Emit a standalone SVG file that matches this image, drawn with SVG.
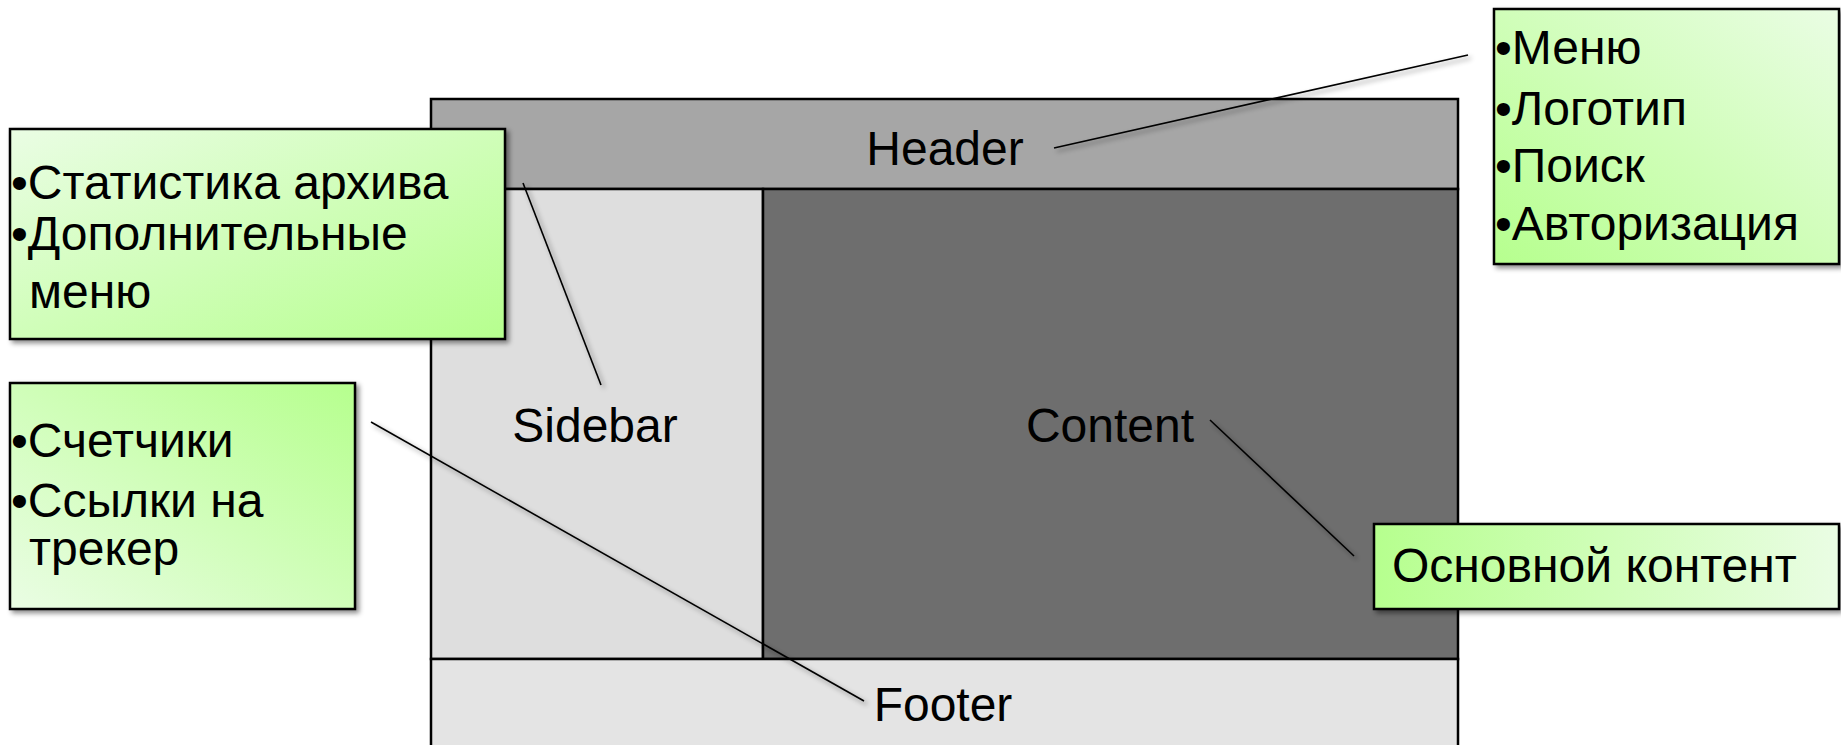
<svg xmlns="http://www.w3.org/2000/svg" width="1841" height="745" viewBox="0 0 1841 745">
<defs>
<style>
.lbl{font-family:"Liberation Sans",Arial,sans-serif;font-size:48px;fill:#000}
.t{font-family:"Liberation Sans",Arial,sans-serif;font-size:48px;fill:#000}
.box{stroke:#000;stroke-width:2.5}
.part{stroke:#000;stroke-width:2.5}
.conn line{stroke:#000;stroke-width:1.6;filter:url(#sh)}
</style>
<linearGradient id="g1" x1="0" y1="0" x2="1" y2="1"><stop offset="0" stop-color="#eafde4"/><stop offset="1" stop-color="#b6ff8e"/></linearGradient>
<linearGradient id="g2" x1="0" y1="1" x2="1" y2="0"><stop offset="0" stop-color="#b6ff8e"/><stop offset="1" stop-color="#eafde4"/></linearGradient>
<linearGradient id="g3" x1="0" y1="1" x2="1" y2="0"><stop offset="0" stop-color="#eafde4"/><stop offset="1" stop-color="#b6ff8e"/></linearGradient>
<linearGradient id="g4" x1="0" y1="0" x2="1" y2="0"><stop offset="0" stop-color="#b6ff8e"/><stop offset="1" stop-color="#eafde4"/></linearGradient>
<filter id="sh" x="-10%" y="-10%" width="130%" height="130%"><feDropShadow dx="3" dy="3" stdDeviation="2.5" flood-color="#000" flood-opacity="0.45"/></filter>
</defs>
<g id="layout">
<g id="header"><rect class="part" x="431" y="99" width="1027" height="90" fill="#a6a6a6"/><text class="lbl" x="945" y="165" text-anchor="middle">Header</text></g>
<g id="sidebar"><rect class="part" x="431" y="189" width="332" height="470" fill="#dedede"/><text class="lbl" x="595" y="442" text-anchor="middle">Sidebar</text></g>
<g id="content"><rect class="part" x="763" y="189" width="695" height="470" fill="#6e6e6e"/><text class="lbl" x="1110" y="442" text-anchor="middle">Content</text></g>
<g id="footer"><rect class="part" x="431" y="659" width="1027" height="100" fill="#e4e4e4"/><text class="lbl" x="943" y="721" text-anchor="middle">Footer</text></g>
</g>
<g class="conn" id="connectors">
<line x1="1054" y1="148" x2="1468" y2="55"/>
<line x1="523" y1="183" x2="601" y2="385"/>
<line x1="371" y1="422" x2="864" y2="701"/>
<line x1="1210" y1="420" x2="1354" y2="556"/>
</g>
<g id="note-sidebar"><rect class="box" x="10" y="129" width="495" height="210" fill="url(#g1)" filter="url(#sh)"/>
<text class="t" x="11" y="199">•Статистика архива</text>
<text class="t" x="11" y="250">•Дополнительные</text>
<text class="t" x="29" y="308">меню</text></g>
<g id="note-header"><rect class="box" x="1494" y="9" width="345" height="255" fill="url(#g2)" filter="url(#sh)"/>
<text class="t" x="1495" y="64">•Меню</text>
<text class="t" x="1495" y="125">•Логотип</text>
<text class="t" x="1495" y="182">•Поиск</text>
<text class="t" x="1495" y="240">•Авторизация</text></g>
<g id="note-footer"><rect class="box" x="10" y="383" width="345" height="226" fill="url(#g3)" filter="url(#sh)"/>
<text class="t" x="11" y="457">•Счетчики</text>
<text class="t" x="11" y="517">•Ссылки на</text>
<text class="t" x="29" y="565">трекер</text></g>
<g id="note-content"><rect class="box" x="1374" y="524" width="465" height="85" fill="url(#g4)" filter="url(#sh)"/>
<text class="t" x="1392" y="582">Основной контент</text></g>
</svg>
